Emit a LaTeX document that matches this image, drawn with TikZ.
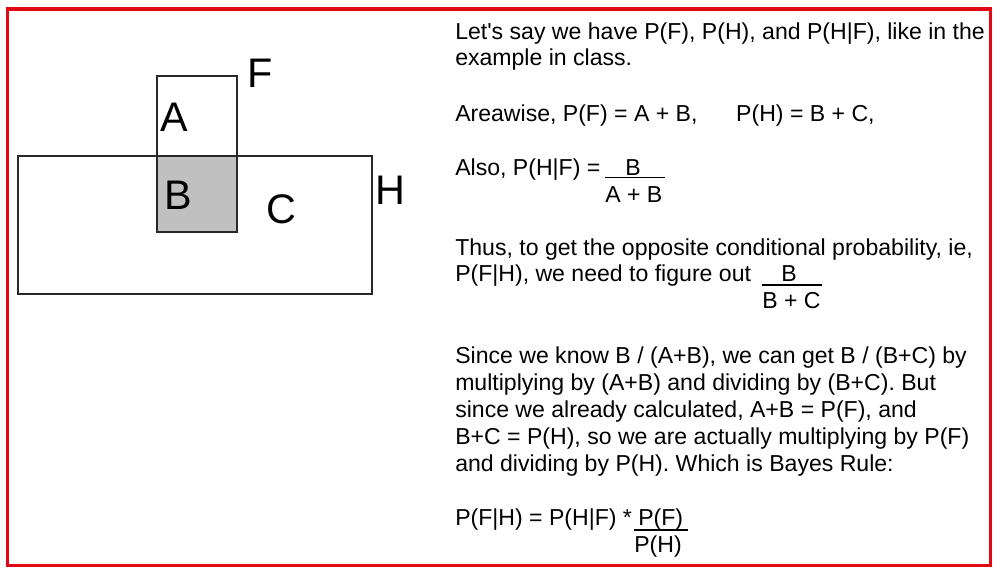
\documentclass[tikz,border=0pt]{standalone}
\usepackage{fontspec}
\setmainfont{Liberation Sans}
\definecolor{frameRed}{RGB}{226,8,22}
\definecolor{areaGray}{RGB}{192,192,192}
\definecolor{edgeGray}{RGB}{40,40,40}

\begin{document}
\begin{tikzpicture}[x=0.75pt,y=0.75pt,yscale=-1,
  txt/.style={anchor=base west,inner sep=0pt,font=\fontsize{17.3}{20}\selectfont},
  bigtxt/.style={anchor=base west,inner sep=0pt,font=\fontsize{31}{36}\selectfont},
  area/.style={draw=edgeGray,line width=1.1pt}]
\useasboundingbox (0,0) rectangle (1003,576);

%Shape: Rectangle (frame)
\draw [draw=frameRed,line width=2.4pt] (7.5,9) rectangle (990.5,565.5) ;
%Shape: Rectangle (H)
\draw [area] (18,156) rectangle (372,294) ;
%Shape: Rectangle (B)
\draw [area,fill=areaGray] (157,156) rectangle (237,232) ;
%Shape: Rectangle (F)
\draw [area] (157,76) rectangle (237,156) ;

% Text Node
\draw (247,87) node [bigtxt] (lblF) {F};
% Text Node
\draw (160,131) node [bigtxt] (lblA) {A};
% Text Node
\draw (164,209) node [bigtxt] (lblB) {B};
% Text Node
\draw (266,223) node [bigtxt] (lblC) {C};
% Text Node
\draw (375,204) node [bigtxt] (lblH) {H};

% Text Node
\draw (455,39) node [txt] (intro1) {Let\textquotesingle s say we have P(F), P(H), and P(H|F), like in the};
% Text Node
\draw (455,65) node [txt] (intro2) {example in class.};
% Text Node
\draw (455,121) node [txt] (areas) {Areawise, P(F) = A + B,\hspace{29pt}P(H) = B + C,};
% Text Node
\draw (455,175) node [txt] (also) {Also, P(H|F) =};
\draw (633,175) node [txt,anchor=base] (alsoNum) {B};
\draw (605,202) node [txt] (alsoDen) {A + B};
%Straight Lines
\draw [line width=0.8pt] (605,177.5) -- (665,177.5) ;
% Text Node
\draw (455,255) node [txt] (thus1) {Thus, to get the opposite conditional probability, ie,};
% Text Node
\draw (455,281) node [txt] (thus2) {P(F|H), we need to figure out};
\draw (789,281) node [txt,anchor=base] (thusNum) {B};
\draw (762,308) node [txt] (thusDen) {B + C};
%Straight Lines
\draw [line width=0.8pt] (762,285) -- (822,285) ;
% Text Node
\draw (455,363) node [txt] (since1) {Since we know B / (A+B), we can get B / (B+C) by};
\draw (455,390) node [txt] (since2) {multiplying by (A+B) and dividing by (B+C). But};
\draw (455,417) node [txt] (since3) {since we already calculated, A+B = P(F), and};
\draw (455,444) node [txt] (since4) {B+C = P(H), so we are actually multiplying by P(F)};
\draw (455,471) node [txt] (since5) {and dividing by P(H). Which is Bayes Rule:};
% Text Node
\draw (455,525) node [txt] (bayes) {P(F|H) = P(H|F) * P(F)};
\draw (658,552) node [txt,anchor=base] (bayesDen) {P(H)};
%Straight Lines
\draw [line width=0.8pt] (634,530) -- (688,530) ;

\end{tikzpicture}
\end{document}
